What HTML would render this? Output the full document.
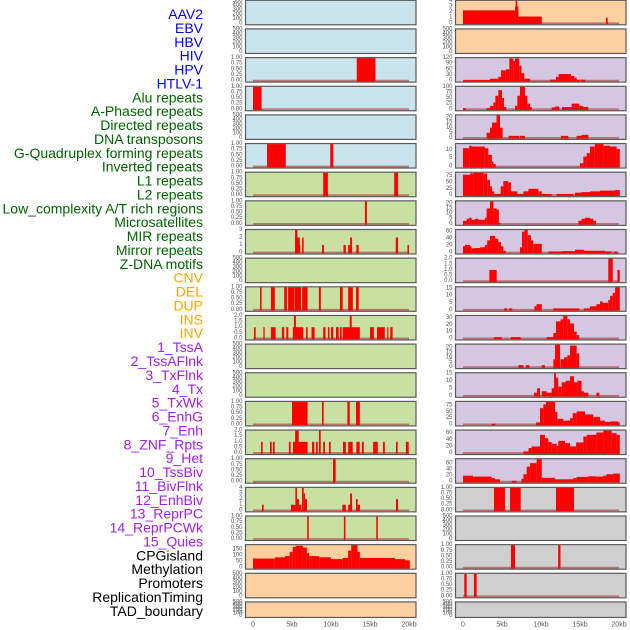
<!DOCTYPE html>
<html><head><meta charset="utf-8"><style>
html,body{margin:0;padding:0;background:#fff;}
svg{display:block;font-family:"Liberation Sans",sans-serif;}
</style></head><body>
<svg id="chart" width="630" height="630" viewBox="0 0 630 630"></svg>
<script>
// ---------- track labels ----------
const labelNames = ["AAV2","EBV","HBV","HIV","HPV","HTLV-1","Alu repeats","A-Phased repeats","Directed repeats","DNA transposons","G-Quadruplex forming repeats","Inverted repeats","L1 repeats","L2 repeats","Low_complexity A/T rich regions","Microsatellites","MIR repeats","Mirror repeats","Z-DNA motifs","CNV","DEL","DUP","INS","INV","1_TssA","2_TssAFlnk","3_TxFlnk","4_Tx","5_TxWk","6_EnhG","7_Enh","8_ZNF_Rpts","9_Het","10_TssBiv","11_BivFlnk","12_EnhBiv","13_ReprPC","14_ReprPCWk","15_Quies","CPGisland","Methylation","Promoters","ReplicationTiming","TAD_boundary"];
const labelGroups = ["v","v","v","v","v","v","r","r","r","r","r","r","r","r","r","r","r","r","r","s","s","s","s","s","c","c","c","c","c","c","c","c","c","c","c","c","c","c","c","k","k","k","k","k"];
const xTickValues = [0,5,10,15,20];
const xTickLabels = ["0","5kb","10kb","15kb","20kb"];

// ---------- tick arrays ----------
const T_empty = [0,100,200,300,400,500];
const T_bin = [0,0.25,0.5,0.75,1];
const T_0_3 = [0,1,2,3];
const T_0_2 = [0,0.5,1,1.5,2];
const T_0_4 = [0,1,2,3,4];
const T_cpg = [0,50,100,150];
const T_r0 = [0,1,2,3,4];
const T_r2 = [0,30,60,90,120];
const T_r3 = [0,25,50,75,100];
const T_r4 = [0,5,10,15,20];
const T_r5 = [0,5,10];
const T_r6 = [0,25,50,75];
const T_r8 = [0,20,40,60];
const T_r9 = [0,0.5,1,1.5,2];
const T_r10 = [0,5,10,15];
const T_r11 = [0,10,20,30];
const T_r13 = [0,5,10,15];

// ---------- left column segments [startKb, endKb, value] ----------
const L2 = [[13.3,15.7,1]];
const L3 = [[0,1.1,1]];
const L5 = [[1.8,4.2,1],[9.9,10.3,1]];
const L6 = [[9.0,9.6,1],[18.1,18.6,1]];
const L7 = [[14.35,14.6,1]];
const L8 = [[5.4,6.0,2],[5.4,5.7,3],[5.9,6.0,1],[6.3,6.5,2],[8.85,9.1,1],[11.6,11.9,1],[12.2,12.5,1],[12.45,12.7,2],[13.25,13.55,1],[18.3,18.6,2],[19.8,20,1]];
const L10 = [[0.9,1.1,1],[2.3,2.8,1],[4.0,4.35,1],[4.5,5.3,1],[5.35,6.15,1],[6.3,7.0,1],[8.45,8.7,1],[11.15,11.5,1],[12.2,12.8,1],[13.2,13.55,1]];
const L11 = [[0.13,0.34,1],[1.33,1.5,1],[2.3,2.9,1],[3.7,4.0,1],[4.27,4.53,1],[5.1,6.45,1],[5.25,5.5,2],[6.8,7.0,1],[7.5,7.9,1],[9.0,9.3,1],[9.6,9.8,1],[10.0,10.3,1],[10.64,10.98,1],[11.15,11.37,1],[11.5,13.7,1],[12.4,12.65,2],[15.0,15.5,1],[15.9,16.9,1],[17.2,17.35,1],[17.6,17.9,1]];
const L14 = [[5.0,7.0,1],[8.85,9.06,1],[12.1,12.4,1],[13.2,13.7,1]];
const L15 = [[1.03,1.24,1],[2.18,2.4,1],[2.56,2.78,1],[4.6,4.83,1],[5.13,7.0,1],[5.4,5.86,2],[7.56,7.86,1],[8.08,8.3,1],[8.46,8.68,2],[9.0,9.23,1],[9.74,9.96,1],[11.54,11.9,1],[12.2,12.78,1],[13.25,13.68,1],[13.97,14.2,1],[15.4,16.0,1],[16.67,16.9,1],[18.33,18.55,1],[19.6,19.96,1]];
const L16 = [[10.26,10.6,1]];
const L17 = [[1.15,1.37,1],[4.87,6.2,1],[5.43,5.64,4],[5.64,5.9,2],[6.28,6.5,4],[6.5,6.67,3],[6.67,6.92,2],[11.45,11.9,1],[12.2,12.7,1],[12.45,12.7,3],[13.2,13.42,2],[13.42,13.72,1],[18.33,18.6,2]];
const L18 = [[6.95,7.15,1],[11.65,11.85,1],[15.8,16.0,1]];
const L19 = [[0,2.8,75],[2.8,4.1,85],[4.1,4.7,95],[4.7,5.1,130],[5.1,5.5,170],[5.5,6.4,180],[6.4,6.9,165],[6.9,7.2,120],[7.2,8.5,95],[8.5,10,85],[10,11.5,70],[11.5,12.2,80],[12.2,12.6,140],[12.6,13.4,185],[13.4,13.7,130],[13.7,18.2,80],[18.2,19.5,70],[19.5,20.1,60]];

// ---------- right column segments ----------
const R0 = [[0,6.67,2.3],[6.67,7.1,3],[6.75,6.96,4],[7.1,10.1,1.2],[18.33,18.55,1]];
const R2 = [[0,1.15,2],[1.15,3.46,3],[3.46,4.53,10],[4.53,4.87,20],[4.87,5.5,55],[5.5,5.94,60],[5.94,6.45,118],[6.45,6.67,105],[6.67,7.2,118],[7.2,7.5,80],[7.5,7.86,40],[7.86,8.6,10],[11.15,11.92,5],[11.92,12.26,20],[12.26,13.85,35],[13.85,14.27,25],[14.27,14.57,15],[14.57,15.0,5],[15.1,15.64,5]];
const R3 = [[0,0.35,5],[3.03,3.46,5],[3.46,3.9,15],[3.9,4.15,30],[4.15,4.53,60],[4.53,5.0,85],[5.0,5.26,50],[5.26,5.55,10],[6.67,6.97,15],[6.97,7.3,60],[7.3,7.95,100],[7.95,8.25,60],[8.25,8.6,25],[8.6,8.8,10],[11.37,11.8,8],[11.8,12.35,12],[12.7,13.93,10],[13.93,14.9,25],[14.9,15.4,15],[15.4,16.07,10]];
const R4 = [[3.03,3.46,5],[3.46,3.72,10],[3.72,4.3,15],[4.3,4.74,22],[4.74,5.08,10],[5.85,7.2,2],[7.3,7.95,2],[12.56,13.5,2],[14.57,15.2,2],[15.2,16.07,3]];
const R5 = [[0,0.8,11],[0.8,1.1,12.5],[1.1,2.8,12],[2.8,3.25,11],[3.25,3.7,7],[3.7,3.9,3],[3.9,4.2,1.5],[15.0,15.43,2],[15.43,15.85,6],[15.85,16.28,8],[16.28,16.9,12],[16.9,18.0,13.5],[18.0,18.85,12.5],[18.85,19.7,12],[19.7,20.1,10.5]];
const R6 = [[0,0.9,80],[0.9,1.3,85],[1.3,2.6,88],[2.6,3.1,85],[3.1,3.46,60],[3.46,3.72,35],[3.72,4.0,15],[4.0,4.83,5],[4.83,5.17,35],[5.17,5.8,55],[5.8,6.15,50],[6.15,6.97,15],[6.97,7.74,5],[7.74,8.4,15],[8.4,9.66,25],[9.66,10.1,15],[10.1,11.37,5],[12.0,14.15,5],[14.36,15.2,10],[15.2,16.28,12],[16.28,17.56,15],[17.56,19.5,18],[19.5,20.1,20]];
const R7 = [[0,0.47,3],[0.47,0.8,5],[0.8,1.1,6],[1.1,1.54,4],[1.54,1.97,5],[1.97,2.82,4],[2.82,3.03,6],[3.03,3.46,15],[3.46,3.9,22],[3.9,4.3,15],[4.3,4.6,14],[4.6,4.75,1],[14.8,15.2,3],[15.2,15.64,5],[15.64,16.28,6],[16.28,16.7,5],[16.7,17.05,3]];
const R8 = [[0,0.26,18],[0.26,0.9,22],[0.9,1.1,18],[1.1,1.54,12],[1.54,2.18,13],[2.18,2.82,15],[2.82,3.1,22],[3.1,3.46,35],[3.46,4.1,48],[4.1,4.53,40],[4.53,4.87,30],[4.87,5.17,18],[5.17,5.5,5],[7.3,7.56,15],[7.56,7.86,60],[7.86,8.3,65],[8.3,8.72,50],[8.72,9.0,35],[9.0,10.1,25],[10.94,12.65,3],[12.65,14.36,4],[14.36,15.5,8],[15.5,18.2,5],[18.2,19.06,3],[19.4,19.8,3]];
const R9 = [[3.38,4.32,1],[18.63,19.2,2],[19.8,20.1,1]];
const R10 = [[5.26,5.68,1],[5.9,6.32,1],[9.15,9.44,2.5],[9.44,10.1,4],[11.58,14.9,1],[15.5,16.28,1],[16.28,17.1,2.5],[17.1,17.56,4],[17.56,17.9,6],[17.9,18.63,5],[18.63,18.85,7],[18.85,19.2,10],[19.2,19.5,12],[19.5,20.1,16]];
const R11 = [[3.97,4.96,2],[6.15,7.4,2],[10.73,11.58,2],[11.58,11.92,8],[11.92,12.5,25],[12.5,12.86,28],[12.86,13.38,33],[13.38,13.72,28],[13.72,14.23,22],[14.23,14.57,10],[14.57,14.9,5]];
const R12 = [[7.1,7.74,2],[8.08,8.5,2],[10.1,10.5,2],[11.58,11.8,8],[11.8,12.44,23],[12.5,12.95,8],[12.95,13.38,10],[13.38,13.72,12],[13.72,14.57,22],[14.57,14.9,14]];
const R13 = [[9.1,9.5,2],[9.5,9.87,5],[10.1,10.73,3],[10.73,11.37,2],[11.37,11.67,5],[11.67,11.92,15],[11.92,12.2,12],[12.2,12.65,6],[12.65,13.2,9],[13.2,13.72,10],[13.72,14.23,13],[14.23,14.66,9],[14.66,15.2,10],[15.2,15.5,3],[15.5,16.07,2],[17.1,17.48,2]];
const R14 = [[3.68,4.15,3],[9.36,9.87,8],[9.87,10.3,65],[10.3,10.64,80],[10.64,11.8,90],[11.8,12.1,50],[12.1,12.86,22],[12.86,13.72,15],[13.72,14.06,25],[14.06,14.57,45],[14.57,15.64,52],[15.64,16.7,40],[16.7,17.56,30],[17.56,18.2,15],[18.2,18.85,10],[18.85,19.9,12],[19.9,20.1,8]];
const R15 = [[7.74,8.4,5],[8.4,8.8,15],[8.8,9.87,20],[9.87,10.5,55],[10.5,10.94,45],[10.94,11.37,33],[11.37,12.0,28],[12.0,12.22,22],[12.22,13.08,37],[13.08,13.72,30],[13.72,14.5,20],[14.5,15.43,32],[15.43,15.85,50],[15.85,17.1,55],[17.1,18.0,62],[18.0,19.06,68],[19.06,19.7,60],[19.7,20.1,55]];
const R16 = [[0,1.3,20],[1.3,3.68,17],[3.68,4.1,12],[4.1,4.74,8],[6.24,6.88,3],[7.5,7.74,10],[7.74,8.16,25],[8.16,8.6,50],[8.6,9.44,62],[9.44,10.1,75],[10.1,11.8,13],[11.8,14.15,8],[14.15,14.57,12],[14.57,16.07,16],[16.07,17.1,18],[17.1,17.97,17],[17.97,18.4,20],[18.4,19.27,25],[19.27,20.1,27]];
const R17 = [[3.97,5.38,1],[6.03,7.4,1],[11.92,14.23,1]];
const R19 = [[6.15,6.67,1],[12.2,12.5,1]];
const R20 = [[0.17,0.47,1],[1.4,1.75,1]];

// ---------- panel definitions: [column, row, background, segments, ticks] ----------
const BG = {b:"#c9e4ec", g:"#c8e1a3", o:"#fed0a0", p:"#d5c6e1", k:"#cfcfcf"};
const panels = [
 ["L",0,"b",null,T_empty],["L",1,"b",null,T_empty],["L",2,"b",L2,T_bin],["L",3,"b",L3,T_bin],
 ["L",4,"b",null,T_empty],["L",5,"b",L5,T_bin],["L",6,"g",L6,T_bin],["L",7,"g",L7,T_bin],
 ["L",8,"g",L8,T_0_3],["L",9,"g",null,T_empty],["L",10,"g",L10,T_bin],["L",11,"g",L11,T_0_2],
 ["L",12,"g",null,T_empty],["L",13,"g",null,T_empty],["L",14,"g",L14,T_bin],["L",15,"g",L15,T_0_2],
 ["L",16,"g",L16,T_bin],["L",17,"g",L17,T_0_4],["L",18,"g",L18,T_bin],["L",19,"o",L19,T_cpg],
 ["L",20,"o",null,T_empty],["L",21,"o",null,T_empty],
 ["R",0,"o",R0,T_r0],["R",1,"o",null,T_empty],["R",2,"p",R2,T_r2],["R",3,"p",R3,T_r3],
 ["R",4,"p",R4,T_r4],["R",5,"p",R5,T_r5],["R",6,"p",R6,T_r6],["R",7,"p",R7,T_r4],
 ["R",8,"p",R8,T_r8],["R",9,"p",R9,T_r9],["R",10,"p",R10,T_r10],["R",11,"p",R11,T_r11],
 ["R",12,"p",R12,T_r4],["R",13,"p",R13,T_r13],["R",14,"p",R14,T_r6],["R",15,"p",R15,T_r8],
 ["R",16,"p",R16,T_r8],["R",17,"k",R17,T_bin],["R",18,"k",null,T_empty],["R",19,"k",R19,T_bin],
 ["R",20,"k",R20,T_bin],["R",21,"k",null,T_empty]
];

const NS = "http://www.w3.org/2000/svg";
const svg = document.getElementById("chart");
function mk(tag, attrs, parent){
  const e = document.createElementNS(NS, tag);
  for (const k in attrs) e.setAttribute(k, attrs[k]);
  (parent||svg).appendChild(e);
  return e;
}
const COLORS = {v:"#0000ff", r:"#006400", s:"#ffa500", c:"#a020f0", k:"#000000"};

// labels
labelNames.forEach((name,i)=>{
  const t = mk("text",{x:203, y:14+13.88*i, "text-anchor":"end", "dominant-baseline":"central", "font-size":"14", fill:COLORS[labelGroups[i]]});
  
  
  t.textContent = name;
});

function colX(col){ return col==="L" ? 245.5 : 455.5; }
const PW = 170.5;
function xScale(col, kb){ return colX(col) + 7.5 + kb*7.8; }
function rowTop(r){ return 0.3 + 28.65*r; }
function rowH(r){ return r===21 ? 15.5 : 24.5; }

panels.forEach(p=>{
  const [col,row,bg,segs,ticks] = p;
  const x0 = colX(col), top = rowTop(row), h = rowH(row), bot = top+h;
  const g = mk("g",{});
  
  
  const rect = mk("rect",{x:x0, y:top, width:PW, height:h, fill:BG[bg]}, g);
  
  
  let ymax = ticks[ticks.length-1];
  if (segs) segs.forEach(s=>{ if (s[2]>ymax) ymax=s[2]; });
  const yS = v => bot - 1.5 - v/ymax*(h-2);
  if (segs){
    const base = mk("line",{x1:xScale(col,0), x2:xScale(col,20), y1:yS(0), y2:yS(0), stroke:"#b04a4a", "stroke-width":"1.8", "stroke-opacity":"0.7"}, g);
    
    
    segs.forEach(s=>{
      const xa = xScale(col,s[0]), xb = xScale(col,s[1]);
      const b = mk("rect",{x:xa, y:yS(s[2]), width:Math.max(1.2,xb-xa), height:yS(0)-yS(s[2])+0.8, fill:"#ff0000"}, g);
      
      
    });
  }
  const border = mk("rect",{x:x0, y:top, width:PW, height:h, fill:"none", stroke:"#5a5a5a", "stroke-width":"1.2"}, g);
  
  
  ticks.forEach(tv=>{
    const t = mk("text",{x:x0-3, y:yS(tv), "text-anchor":"end", "dominant-baseline":"central", "font-size":"6", fill:"#555"}, g);
    
    
    t.textContent = (ticks===T_bin) ? tv.toFixed(2) : (ticks===T_0_2||ticks===T_r9 ? tv.toFixed(1) : String(tv));
  });
});

["L","R"].forEach(col=>{
  xTickValues.forEach((v,i)=>{
    const t = mk("text",{x:xScale(col,v), y:625, "text-anchor":"middle", "dominant-baseline":"central", "font-size":"7", fill:"#555"});
    
    
    t.textContent = xTickLabels[i];
  });
});
</script>
</body></html>
